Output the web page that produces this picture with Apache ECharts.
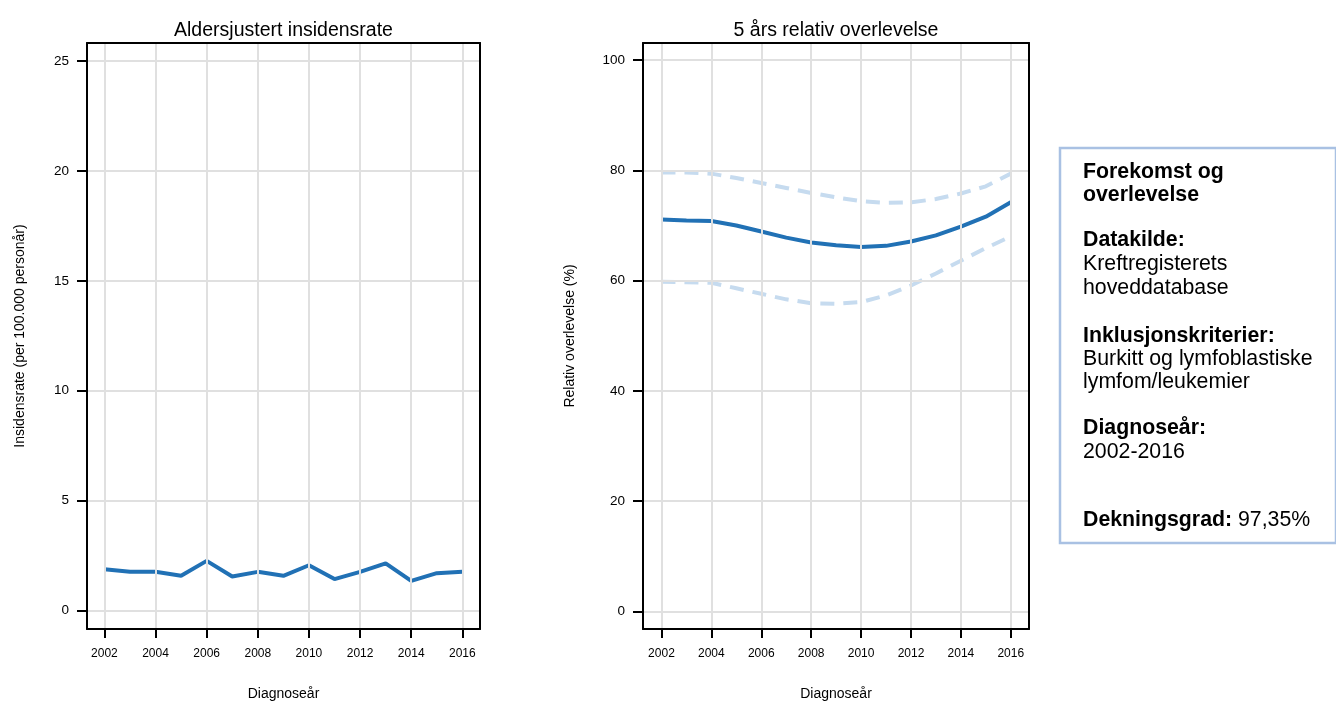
<!DOCTYPE html>
<html>
<head>
<meta charset="utf-8">
<script src="https://cdn.jsdelivr.net/npm/echarts@6/dist/echarts.min.js"></script>
<style>
  html, body { margin: 0; padding: 0; background: #fff; }
  #chart { width: 1336px; height: 706px; }
</style>
</head>
<body>
<div id="chart"></div>
<script>
// Diagnosis years
const years = [2002, 2003, 2004, 2005, 2006, 2007, 2008, 2009, 2010, 2011, 2012, 2013, 2014, 2015, 2016];

// Age-adjusted incidence rate (per 100,000 person-years)
const incidence = [1.88, 1.76, 1.76, 1.58, 2.26, 1.55, 1.76, 1.58, 2.06, 1.43, 1.76, 2.15, 1.35, 1.70, 1.77];

// 5-year relative survival (%) with confidence band
const survival = [71.1, 70.9, 70.8, 70.0, 68.9, 67.8, 66.9, 66.4, 66.1, 66.3, 67.1, 68.2, 69.8, 71.6, 74.2];
const survivalUpper = [79.6, 79.6, 79.4, 78.6, 77.7, 76.8, 75.9, 75.1, 74.4, 74.1, 74.2, 74.8, 75.8, 77.1, 79.4];
const survivalLower = [59.8, 59.7, 59.6, 58.6, 57.6, 56.6, 55.9, 55.8, 56.1, 57.3, 59.1, 61.3, 63.6, 65.9, 68.0];

// Tick values
const yearTicks = [2002, 2004, 2006, 2008, 2010, 2012, 2014, 2016];
const incidenceTicks = [0, 5, 10, 15, 20, 25];
const survivalTicks = [0, 20, 40, 60, 80, 100];

// Text panel lines
const infoLines = [
  { text: 'Forekomst og', bold: true },
  { text: 'overlevelse', bold: true },
  { text: 'Datakilde:', bold: true },
  { text: 'Kreftregisterets', bold: false },
  { text: 'hoveddatabase', bold: false },
  { text: 'Inklusjonskriterier:', bold: true },
  { text: 'Burkitt og lymfoblastiske', bold: false },
  { text: 'lymfom/leukemier', bold: false },
  { text: 'Diagnoseår:', bold: true },
  { text: '2002-2016', bold: false }
];
const coverageLabel = 'Dekningsgrad:';
const coverageValue = ' 97,35%';

const FONT = "'Liberation Sans', Arial, Helvetica, sans-serif";
const LINE = '#2171b5';
const BAND = '#c6dbef';
const GRIDLINE = '#e0e0e0';
const INFO_SIZE = 21.3;

const pair = (xs, ys) => xs.map((x, i) => [x, ys[i]]);

function xAxisMain(gridIndex, min, max) {
  return {
    type: 'value', gridIndex, min, max, position: 'bottom',
    name: 'Diagnoseår', nameLocation: 'middle', nameGap: 58,
    nameTextStyle: { fontFamily: FONT, fontSize: 14, color: '#000' },
    axisLine: { show: true, onZero: false, lineStyle: { color: '#000', width: 2 } },
    axisTick: { show: true, inside: false, length: 9, customValues: yearTicks, lineStyle: { color: '#000', width: 2 } },
    axisLabel: { show: true, margin: 19, customValues: yearTicks, formatter: v => String(v),
      fontFamily: FONT, fontSize: 12, color: '#000' },
    splitLine: { show: true, lineStyle: { color: GRIDLINE, width: 2 } },
    z: 3
  };
}
function yAxisMain(gridIndex, min, max, ticks, name, gap) {
  return {
    type: 'value', gridIndex, min, max, position: 'left',
    name, nameLocation: 'middle', nameGap: gap,
    nameTextStyle: { fontFamily: FONT, fontSize: 14, color: '#000' },
    axisLine: { show: true, onZero: false, lineStyle: { color: '#000', width: 2 } },
    axisTick: { show: true, inside: false, length: 10, customValues: ticks, lineStyle: { color: '#000', width: 2 } },
    axisLabel: { show: true, margin: 18, customValues: ticks, formatter: v => String(v),
      fontFamily: FONT, fontSize: 13.5, color: '#000' },
    splitLine: { show: true, lineStyle: { color: GRIDLINE, width: 2 } },
    z: 3
  };
}
function frameAxis(kind, gridIndex, min, max) {
  return {
    type: 'value', gridIndex, min, max, position: kind === 'x' ? 'top' : 'right',
    axisLine: { show: true, onZero: false, lineStyle: { color: '#000', width: 2 } },
    axisTick: { show: false }, axisLabel: { show: false }, splitLine: { show: false },
    z: 4
  };
}

const graphics = [
  {
    type: 'rect', shape: { x: 1060, y: 148, width: 276, height: 395 },
    style: { fill: '#fff', stroke: '#a9c1e3', lineWidth: 2.5 }
  }
];
const infoY = [172, 195, 240, 264, 288, 336, 359, 382, 428, 452];
infoLines.forEach((ln, i) => {
  graphics.push({
    type: 'text', x: 1083, y: infoY[i],
    style: {
      text: ln.text, fill: '#000', font: (ln.bold ? 'bold ' : '') + INFO_SIZE + 'px ' + FONT,
      textAlign: 'left', textVerticalAlign: 'middle'
    }
  });
});
graphics.push({
  type: 'text', x: 1083, y: 520,
  style: {
    text: '{b|' + coverageLabel + '}{r|' + coverageValue + '}',
    textVerticalAlign: 'middle',
    rich: {
      b: { fontFamily: FONT, fontSize: INFO_SIZE, fontWeight: 'bold', fill: '#000', color: '#000' },
      r: { fontFamily: FONT, fontSize: INFO_SIZE, fill: '#000', color: '#000' }
    }
  }
});

const chart = echarts.init(document.getElementById('chart'), null, { renderer: 'canvas' });
chart.setOption({
  animation: false,
  backgroundColor: '#fff',
  title: [
    { text: 'Aldersjustert insidensrate', left: 278.5, top: 16, textAlign: 'center',
      textStyle: { fontFamily: FONT, fontSize: 19.5, fontWeight: 'normal', color: '#000' } },
    { text: '5 års relativ overlevelse', left: 831, top: 16, textAlign: 'center',
      textStyle: { fontFamily: FONT, fontSize: 19.5, fontWeight: 'normal', color: '#000' } }
  ],
  grid: [
    { left: 87, top: 43, width: 393, height: 589 },
    { left: 643, top: 43, width: 386, height: 589 }
  ],
  xAxis: [
    xAxisMain(0, 2001.32, 2016.69),
    xAxisMain(1, 2001.26, 2016.73),
    frameAxis('x', 0, 2001.32, 2016.69),
    frameAxis('x', 1, 2001.26, 2016.73)
  ],
  yAxis: [
    yAxisMain(0, -0.84, 25.82, incidenceTicks, 'Insidensrate (per 100.000 personår)', 60),
    yAxisMain(1, -3.2, 103.1, survivalTicks, 'Relativ overlevelse (%)', 66),
    frameAxis('y', 0, -0.84, 25.82),
    frameAxis('y', 1, -3.2, 103.1)
  ],
  series: [
    { type: 'line', xAxisIndex: 0, yAxisIndex: 0, data: pair(years, incidence),
      showSymbol: false, lineStyle: { color: LINE, width: 4 }, z: 2 },
    { type: 'line', xAxisIndex: 1, yAxisIndex: 1, data: pair(years, survivalUpper),
      showSymbol: false, lineStyle: { color: BAND, width: 4, type: [14, 9] }, z: 2 },
    { type: 'line', xAxisIndex: 1, yAxisIndex: 1, data: pair(years, survivalLower),
      showSymbol: false, lineStyle: { color: BAND, width: 4, type: [14, 9] }, z: 2 },
    { type: 'line', xAxisIndex: 1, yAxisIndex: 1, data: pair(years, survival),
      showSymbol: false, lineStyle: { color: LINE, width: 4 }, z: 2 }
  ],
  graphic: graphics
});
</script>
</body>
</html>
